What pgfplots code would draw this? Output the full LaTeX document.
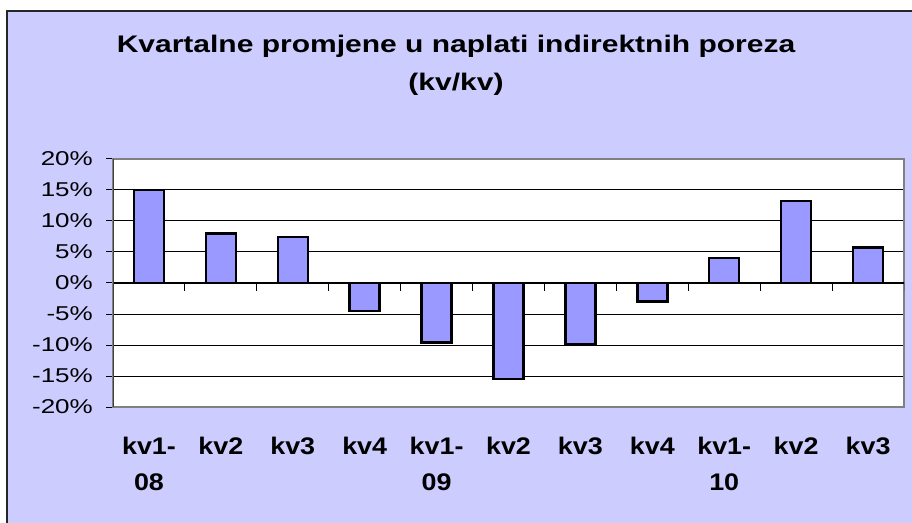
\documentclass[border=0pt]{standalone}
\usepackage{pgfplots}
\pgfplotsset{compat=1.18}
\usepackage{fontspec}
\setmainfont{Liberation Sans}
\newfontfamily\titlefont[FakeStretch=1.25]{Liberation Sans}
\newfontfamily\tickfont[FakeStretch=1.3]{Liberation Sans}
\newfontfamily\catfont[FakeStretch=1.12]{Liberation Sans}
\definecolor{chartbg}{HTML}{CCCCFF}
\definecolor{barfill}{HTML}{9999FF}

\begin{document}
\begin{tikzpicture}[x=1pt,y=1pt]
\useasboundingbox (0,0) rectangle (912,522);
\fill[white] (0,0) rectangle (912,522);
% chart area
\filldraw[fill=chartbg, draw=black!85, line width=2pt] (7,-10) rectangle (925,511);
\node[anchor=base, align=center, font=\titlefont\bfseries\fontsize{24}{38}\selectfont]
  at (456,431) {Kvartalne promjene u naplati indirektnih poreza\\(kv/kv)};
\begin{axis}[
    at={(113pt,115pt)}, anchor=south west,
    scale only axis, width=791pt, height=248pt,
    xmin=-0.5, xmax=10.5, ymin=-20, ymax=20,
    axis background/.style={fill=white},
    axis line style={draw=black!50, line width=1.6pt},
    ybar, bar width=30pt,
    xtick={0,...,10},
    xticklabels={{kv1-\\08},kv2,kv3,kv4,{kv1-\\09},kv2,kv3,kv4,{kv1-\\10},kv2,kv3},
    x tick label style={align=center, anchor=north, inner sep=0pt, yshift=-23pt,
        font=\catfont\bfseries\fontsize{24}{36}\selectfont},
    x tick style={draw=none},
    ytick={-20,-15,...,20},
    yticklabels={-20\%,-15\%,-10\%,-5\%,0\%,5\%,10\%,15\%,20\%},
    y tick label style={anchor=east, inner sep=0pt, xshift=-13pt,
        font=\tickfont\fontsize{20}{22}\selectfont},
    ytick pos=left, xtick pos=bottom,
    tick align=outside, major tick length=7pt,
    y tick style={black, line width=1pt},
    ymajorgrids, grid style={black, line width=1pt},
]
\addplot[fill=barfill, draw=black, line width=2.4pt] coordinates {
    (0,15) (1,8) (2,7.4) (3,-4.5) (4,-9.6) (5,-15.5)
    (6,-9.8) (7,-3.0) (8,4.0) (9,13.2) (10,5.7)
};
\draw[black, line width=1.2pt] (axis cs:-0.5,0) -- (axis cs:10.5,0);
\pgfplotsinvokeforeach{-0.5,0.5,...,10.5}{
  \draw[black, line width=1pt] (axis cs:#1,0) -- ([yshift=-8pt]axis cs:#1,0);
}
\draw[black!75, line width=2pt] (rel axis cs:0,0) -- (rel axis cs:0,1);
\end{axis}
\end{tikzpicture}
\end{document}
